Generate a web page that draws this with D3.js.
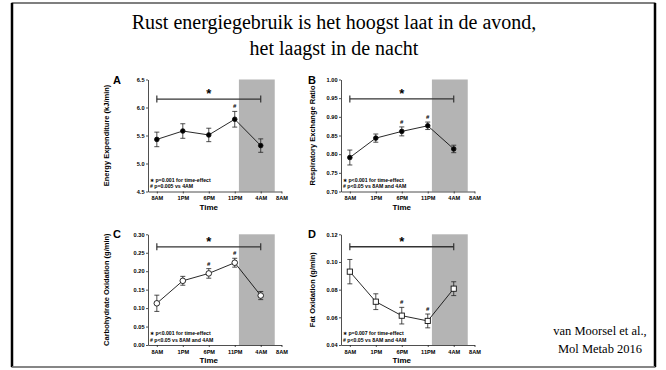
<!DOCTYPE html>
<html>
<head>
<meta charset="utf-8">
<script src="https://cdn.jsdelivr.net/npm/d3@7"></script>
<style>
  body { margin: 0; background: #fff; }
  .tick text { font-family: Arial, "Liberation Sans", sans-serif; font-weight: bold; }
</style>
</head>
<body>
<script>
const frame_height = 370;
const frame_width = 666;

// Time axis (hours after 8AM)
const time_labels = ["8AM", "1PM", "6PM", "11PM", "4AM", "8AM"];
const tick_hours = [0, 5, 10, 15, 20, 24];
const point_hours = [0, 5, 10, 15, 20];
const sleep_hours = [15.8, 22.7];
const sig_hours = [0, 20];

// A - energy expenditure
const ee_mean = [5.43, 5.58, 5.51, 5.79, 5.32];
const ee_sem = [0.13, 0.13, 0.12, 0.14, 0.12];
const ee_hash = [false, false, false, true, false];
const ee_ticks = [4.5, 5.0, 5.5, 6.0, 6.5];

// B - respiratory exchange ratio
const rer_mean = [0.791, 0.843, 0.861, 0.876, 0.814];
const rer_sem = [0.020, 0.011, 0.012, 0.010, 0.010];
const rer_hash = [false, false, true, true, false];
const rer_ticks = [0.70, 0.75, 0.80, 0.85, 0.90, 0.95, 1.00];

// C - carbohydrate oxidation
const cho_mean = [0.113, 0.174, 0.194, 0.223, 0.134];
const cho_sem = [0.022, 0.012, 0.013, 0.012, 0.011];
const cho_hash = [false, false, true, true, false];
const cho_ticks = [0.00, 0.05, 0.10, 0.15, 0.20, 0.25, 0.30];

// D - fat oxidation
const fat_mean = [0.093, 0.0713, 0.0612, 0.0574, 0.0807];
const fat_sem = [0.0088, 0.0057, 0.006, 0.005, 0.005];
const fat_hash = [false, false, true, true, false];
const fat_ticks = [0.04, 0.06, 0.08, 0.10, 0.12];

const title_lines = ["Rust energiegebruik is het hoogst laat in de avond,", "het laagst in de nacht"];
const ref_lines = ["van Moorsel et al.,", "Mol Metab 2016"];

const panels = [
    {letter: "A", label: "Energy Expenditure (kJ/min)", mean: ee_mean, sem: ee_sem, hash: ee_hash,
     ticks: ee_ticks, fmt: ".1f", sig: 6.15, marker: "dot",
     legend: ["\u2217 p=0.001 for time-effect", "# p=0.005 vs 4AM"], col: 0, row: 0},
    {letter: "B", label: "Respiratory Exchange Ratio", mean: rer_mean, sem: rer_sem, hash: rer_hash,
     ticks: rer_ticks, fmt: ".2f", sig: 0.948, marker: "dot",
     legend: ["\u2217 p<0.001 for time-effect", "# p<0.05 vs 8AM and 4AM"], col: 1, row: 0},
    {letter: "C", label: "Carbohydrate Oxidation (g/min)", mean: cho_mean, sem: cho_sem, hash: cho_hash,
     ticks: cho_ticks, fmt: ".2f", sig: 0.266, marker: "circle",
     legend: ["\u2217 p<0.001 for time-effect", "# p<0.05 vs 8AM and 4AM"], col: 0, row: 1},
    {letter: "D", label: "Fat Oxidation (g/min)", mean: fat_mean, sem: fat_sem, hash: fat_hash,
     ticks: fat_ticks, fmt: ".2f", sig: 0.111, marker: "square",
     legend: ["\u2217 p=0.007 for time-effect", "# p<0.05 vs 8AM and 4AM"], col: 1, row: 1}
];

// layout of the 2x2 grid
const col_axis_x = [148, 341];
const col_label_x = [107, 313];
const col_letter_x = [117, 312];
const row_y = [[191.5, 79.5], [345, 234.3]];
const plot_w = 133.5;

const FRAME =
d3.select("body")
    .append("svg")
        .attr("width", frame_width)
        .attr("height", frame_height);

// slide border
FRAME.append("rect")
    .attr("x", 12).attr("y", 3)
    .attr("width", 643).attr("height", 364)
    .attr("fill", "none").attr("stroke", "#000").attr("stroke-width", 1);
FRAME.append("line").attr("x1", 12).attr("x2", 12).attr("y1", 3).attr("y2", 367)
    .attr("stroke", "#000").attr("stroke-width", 2.5);
FRAME.append("line").attr("x1", 655).attr("x2", 655).attr("y1", 3).attr("y2", 367)
    .attr("stroke", "#000").attr("stroke-width", 2.5);
FRAME.append("line").attr("x1", 12).attr("x2", 655).attr("y1", 367).attr("y2", 367)
    .attr("stroke", "#888").attr("stroke-width", 1.5);

// title
FRAME.selectAll(".title")
    .data(title_lines)
    .enter()
    .append("text")
        .attr("x", 334)
        .attr("y", (d, i) => 29 + i * 26)
        .attr("text-anchor", "middle")
        .attr("font-family", "'Liberation Serif', 'Times New Roman', serif")
        .attr("font-size", "20px")
        .text(d => d);

// reference
FRAME.selectAll(".ref")
    .data(ref_lines)
    .enter()
    .append("text")
        .attr("x", 600)
        .attr("y", (d, i) => 335 + i * 18)
        .attr("text-anchor", "middle")
        .attr("font-family", "'Liberation Serif', 'Times New Roman', serif")
        .attr("font-size", "12.5px")
        .text(d => d);

const font = "Arial, 'Liberation Sans', sans-serif";

panels.forEach(p => {
    const ax = col_axis_x[p.col];
    const yr = row_y[p.row];

    const X_SCALE = d3.scaleLinear().domain([-1.7, 24]).range([ax, ax + plot_w]);
    const Y_SCALE = d3.scaleLinear().domain([p.ticks[0], p.ticks[p.ticks.length - 1]]).range(yr);

    const g = FRAME.append("g");

    // sleep period shading
    g.append("rect")
        .attr("x", X_SCALE(sleep_hours[0]))
        .attr("y", yr[1])
        .attr("width", X_SCALE(sleep_hours[1]) - X_SCALE(sleep_hours[0]))
        .attr("height", yr[0] - yr[1])
        .attr("fill", "#b4b4b4");

    // axes
    g.append("g")
        .attr("transform", "translate(0," + yr[0] + ")")
        .call(d3.axisBottom(X_SCALE).tickValues(tick_hours)
            .tickFormat((d, i) => time_labels[i]).tickSize(2).tickSizeOuter(0).tickPadding(3))
        .attr("font-size", "5.6px");

    g.append("g")
        .attr("transform", "translate(" + ax + ",0)")
        .call(d3.axisLeft(Y_SCALE).tickValues(p.ticks)
            .tickFormat(d3.format(p.fmt)).tickSize(2).tickSizeOuter(0).tickPadding(1.5))
        .attr("font-size", "5.6px");

    g.selectAll(".domain, .tick line").attr("stroke", "#222").attr("stroke-width", 0.8);

    // axis titles
    g.append("text")
        .attr("transform", "translate(" + col_label_x[p.col] + "," + ((yr[0] + yr[1]) / 2) + ") rotate(-90)")
        .attr("text-anchor", "middle")
        .attr("dominant-baseline", "middle")
        .attr("font-family", font).attr("font-weight", "bold").attr("font-size", "7.5px")
        .text(p.label);

    g.append("text")
        .attr("x", X_SCALE(10))
        .attr("y", yr[0] + 18)
        .attr("text-anchor", "middle")
        .attr("font-family", font).attr("font-weight", "bold").attr("font-size", "8px")
        .text("Time");

    g.append("text")
        .attr("x", col_letter_x[p.col])
        .attr("y", yr[1] + 4)
        .attr("text-anchor", "middle")
        .attr("font-family", font).attr("font-weight", "bold").attr("font-size", "11px")
        .text(p.letter);

    // significance bar over the whole day
    const sy = Y_SCALE(p.sig);
    g.append("line")
        .attr("x1", X_SCALE(sig_hours[0])).attr("x2", X_SCALE(sig_hours[1]))
        .attr("y1", sy).attr("y2", sy)
        .attr("stroke", "#333").attr("stroke-width", 1.3);
    g.selectAll(".cap")
        .data(sig_hours)
        .enter()
        .append("line")
            .attr("x1", d => X_SCALE(d)).attr("x2", d => X_SCALE(d))
            .attr("y1", sy - 3.5).attr("y2", sy + 3.5)
            .attr("stroke", "#333").attr("stroke-width", 1.2);
    g.append("text")
        .attr("x", X_SCALE((sig_hours[0] + sig_hours[1]) / 2))
        .attr("y", sy - 1)
        .attr("text-anchor", "middle")
        .attr("font-family", font).attr("font-weight", "bold").attr("font-size", "13px")
        .text("*");

    // legend text
    g.selectAll(".leg")
        .data(p.legend)
        .enter()
        .append("text")
            .attr("x", ax + 2)
            .attr("y", (d, i) => yr[0] - 10 + i * 6.5)
            .attr("font-family", font).attr("font-weight", "bold").attr("font-size", "5.2px")
            .text(d => d);

    const pts = point_hours.map((h, i) => ({h: h, m: p.mean[i], s: p.sem[i], hash: p.hash[i]}));

    // connecting line
    g.append("path")
        .datum(pts)
        .attr("d", d3.line().x(d => X_SCALE(d.h)).y(d => Y_SCALE(d.m)))
        .attr("fill", "none").attr("stroke", "#111").attr("stroke-width", 0.9);

    // error bars
    const eb = g.selectAll(".eb").data(pts).enter().append("g");
    eb.append("line")
        .attr("x1", d => X_SCALE(d.h)).attr("x2", d => X_SCALE(d.h))
        .attr("y1", d => Y_SCALE(d.m - d.s)).attr("y2", d => Y_SCALE(d.m + d.s))
        .attr("stroke", "#222").attr("stroke-width", 0.8);
    eb.append("line")
        .attr("x1", d => X_SCALE(d.h) - 2.5).attr("x2", d => X_SCALE(d.h) + 2.5)
        .attr("y1", d => Y_SCALE(d.m + d.s)).attr("y2", d => Y_SCALE(d.m + d.s))
        .attr("stroke", "#222").attr("stroke-width", 0.8);
    eb.append("line")
        .attr("x1", d => X_SCALE(d.h) - 2.5).attr("x2", d => X_SCALE(d.h) + 2.5)
        .attr("y1", d => Y_SCALE(d.m - d.s)).attr("y2", d => Y_SCALE(d.m - d.s))
        .attr("stroke", "#222").attr("stroke-width", 0.8);

    // markers
    if (p.marker === "square") {
        g.selectAll(".mk").data(pts).enter().append("rect")
            .attr("x", d => X_SCALE(d.h) - 2.6).attr("y", d => Y_SCALE(d.m) - 2.6)
            .attr("width", 5.2).attr("height", 5.2)
            .attr("fill", "#fff").attr("stroke", "#111").attr("stroke-width", 0.9);
    } else {
        g.selectAll(".mk").data(pts).enter().append("circle")
            .attr("cx", d => X_SCALE(d.h)).attr("cy", d => Y_SCALE(d.m))
            .attr("r", p.marker === "dot" ? 2.3 : 2.8)
            .attr("fill", p.marker === "dot" ? "#000" : "#fff")
            .attr("stroke", "#111").attr("stroke-width", 0.9);
    }

    // post-hoc marks
    g.selectAll(".hash").data(pts.filter(d => d.hash)).enter().append("text")
        .attr("x", d => X_SCALE(d.h))
        .attr("y", d => Y_SCALE(d.m + d.s) - 3)
        .attr("text-anchor", "middle")
        .attr("font-family", font).attr("font-weight", "bold").attr("font-size", "6px")
        .text("#");
});
</script>
</body>
</html>
